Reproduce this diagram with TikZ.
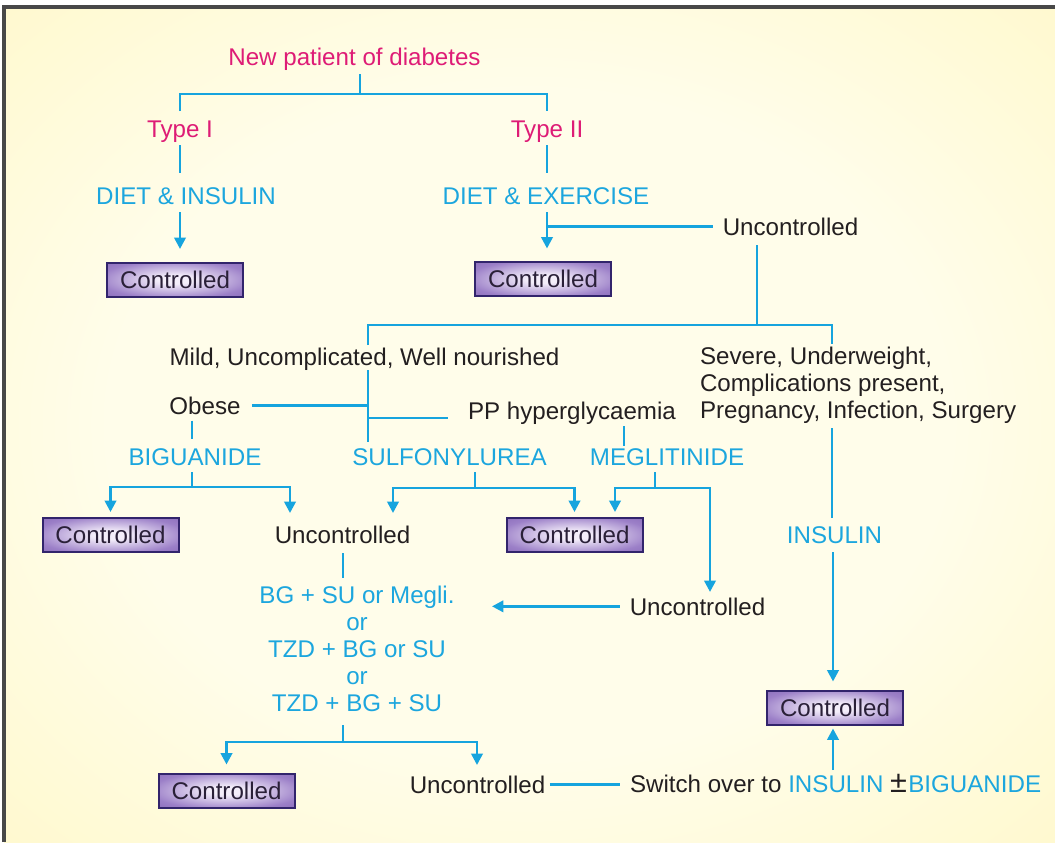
\documentclass[tikz,border=0pt]{standalone}
\usepackage{fontspec}
\setmainfont{Liberation Sans}
\usetikzlibrary{arrows.meta}

\definecolor{pinktxt}{RGB}{222,28,118}
\definecolor{cyantxt}{RGB}{28,166,222}
\definecolor{cyanln}{RGB}{22,164,222}
\definecolor{darktxt}{RGB}{35,31,32}
\definecolor{boxedge}{RGB}{50,36,108}
\definecolor{boxdark}{RGB}{118,86,170}
\definecolor{boxmid}{RGB}{156,128,200}
\definecolor{boxlight}{RGB}{244,238,250}
\definecolor{boxtxt}{RGB}{42,32,56}
\definecolor{bginner}{RGB}{255,253,234}
\definecolor{bgedge}{RGB}{255,245,182}
\definecolor{bgcorner}{RGB}{253,238,152}
\definecolor{framegray}{RGB}{72,72,72}

% soft yellow glow behind the chart
\pgfdeclareradialshading{bgglow}{\pgfpointorigin}{color(0bp)=(bginner); color(20bp)=(bginner); color(50bp)=(bgedge); color(72bp)=(bgcorner)}
% lavender glow inside the result boxes
\pgfdeclareradialshading{boxglow}{\pgfpointorigin}{color(0bp)=(boxlight); color(6bp)=(boxlight); color(28bp)=(boxmid); color(50bp)=(boxdark); color(72bp)=(boxdark)}

\tikzset{
  txt/.style={inner sep=0pt, outer sep=0pt, font=\fontsize{18.1}{20.25}\selectfont},
  one/.style={txt, text height=13pt, text depth=0pt},
  pinklabel/.style={one, text=pinktxt},
  druglabel/.style={one, text=cyantxt},
  plainlabel/.style={one, text=darktxt},
  cbox/.style={draw=boxedge, line width=1.5pt, shading=boxglow,
    minimum width=102pt, minimum height=25.5pt, inner sep=0pt, text=boxtxt,
    font=\fontsize{18.1}{20.25}\selectfont},
  ln/.style={draw=cyanln, line width=1.95pt},
  ar/.style={ln, -{Triangle[width=8.5pt,length=8.5pt]}},
}

\begin{document}
\begin{tikzpicture}[x=0.75pt,y=-0.75pt]
\useasboundingbox (0,0) rectangle (1055,842);
\fill[white] (0,0) rectangle (1055,842);
\shade[shading=bgglow] (4,7) rectangle (1055,842);
\draw[framegray, line width=2.4pt] (4,842) -- (4,7) -- (1055,7);

% ---- labels ----
\node[pinklabel, anchor=base] (title) at (354.5,65) {New patient of diabetes};
\node[pinklabel, anchor=base] (t1) at (180,137) {Type I};
\node[pinklabel, anchor=base] (t2) at (547,137) {Type II};
\node[druglabel, anchor=base] (di) at (186,204) {DIET \& INSULIN};
\node[druglabel, anchor=base] (de) at (546,204) {DIET \& EXERCISE};
\node[cbox] (c1) at (175,279.5) {Controlled};
\node[cbox] (c2) at (543,279) {Controlled};
\node[plainlabel, anchor=base] (u1) at (790.5,235) {Uncontrolled};
\node[plainlabel, anchor=base] (mild) at (364.5,365) {Mild, Uncomplicated, Well nourished};
\node[txt, text=darktxt, anchor=north west, align=left] (sev) at (700,347.5)
  {Severe, Underweight,\\Complications present,\\Pregnancy, Infection, Surgery};
\node[plainlabel, anchor=base] (ob) at (205,414) {Obese};
\node[plainlabel, anchor=base west] (pp) at (468,419) {PP hyperglycaemia};
\node[druglabel, anchor=base] (bg) at (195,465) {BIGUANIDE};
\node[druglabel, anchor=base] (su) at (449.5,465) {SULFONYLUREA};
\node[druglabel, anchor=base] (mg) at (667,465) {MEGLITINIDE};
\node[cbox] (c3) at (110.5,535) {Controlled};
\node[plainlabel, anchor=base] (u2) at (342.5,543) {Uncontrolled};
\node[cbox] (c4) at (574.5,535) {Controlled};
\node[druglabel, anchor=base] (ins) at (834.5,543) {INSULIN};
\node[plainlabel, anchor=base] (u3) at (697.5,615) {Uncontrolled};
\node[txt, text=cyantxt, anchor=north, align=center] (combo) at (357,586.5)
  {BG + SU or Megli.\\or\\TZD + BG or SU\\or\\TZD + BG + SU};
\node[cbox] (c5) at (226.5,790.5) {Controlled};
\node[plainlabel, anchor=base] (u4) at (477.5,793) {Uncontrolled};
\node[plainlabel, anchor=base west] (sw) at (630,792)
  {Switch over to \textcolor{cyantxt}{INSULIN} {\fontsize{23}{23}\selectfont ±}\kern1pt\textcolor{cyantxt}{BIGUANIDE}};
\node[cbox] (c6) at (835,707.5) {Controlled};

% ---- helper x positions and junctions ----
\coordinate (s0) at (360,94);
\coordinate (s1) at (757,325);
\coordinate (xa) at (368,0);
\coordinate (xb) at (832,0);
\coordinate (pj) at (368,418);
\coordinate (xo) at (192,0);
\coordinate (xm) at (624,0);
\coordinate (s2) at (192,487);
\coordinate (xu) at (290,0);
\coordinate (s3) at (475,488);
\coordinate (xv) at (393,0);
\coordinate (s4) at (655,488);
\coordinate (xw) at (615,0);
\coordinate (xz) at (710,0);
\coordinate (a5) at (492,0);
\coordinate (xc) at (343,0);
\coordinate (s5) at (343,742);
\coordinate (xd) at (477,0);
\coordinate (xe) at (833,0);

% ---- top split ----
\draw[ln, shorten <=7pt] (title.south -| s0) -- (s0);
\draw[ln, shorten <=6.5pt, shorten >=6.5pt] (t1.north) |- (s0) -| (t2.north);

% ---- type I ----
\draw[ln, shorten <=6pt, shorten >=10.3pt] (t1.south) -- (t1.south |- di.north);
\draw[ar, shorten <=6pt, shorten >=9.4pt] (t1.south |- di.south) -- (t1.south |- c1.north);

% ---- type II ----
\draw[ln, shorten <=6pt, shorten >=10.3pt] (t2.south) -- (t2.south |- de.north);
\draw[ar, shorten <=6pt, shorten >=9.4pt] (t2.south |- de.south) -- (t2.south |- c2.north);
\draw[ln, shorten <=7.5pt] (u1.west) -- (u1.west -| t2.south);

% ---- uncontrolled on diet ----
\draw[ln, shorten <=7.5pt] (u1.south -| s1) -- (s1);
\draw[ln, shorten <=2pt, shorten >=2.5pt] (mild.north -| xa) |- (s1) -| (sev.north -| xb);
\draw[ln, shorten <=3.75pt, shorten >=4.3pt] (mild.south -| xa) -- (su.north -| xa);
\draw[ln, shorten <=8.5pt] (ob.east) -- (ob.east -| xa);
\draw[ln, shorten >=15pt] (pj) -- (pj -| pp.west);
\draw[ln, shorten <=5pt, shorten >=6.5pt] (ob.south -| xo) -- (bg.north -| xo);
\draw[ln, shorten <=5.25pt, shorten >=1.3pt] (pp.south -| xm) -- (mg.north -| xm);

% ---- biguanide ----
\draw[ln, shorten <=5.25pt] (bg.south -| s2) -- (s2);
\draw[ar, shorten >=3.75pt] (s2) -| (c3.north);
\draw[ar, shorten >=9.5pt] (s2) -| (u2.north -| xu);

% ---- sulfonylurea ----
\draw[ln, shorten <=5.25pt] (su.south -| s3) -- (s3);
\draw[ar, shorten >=9.5pt] (s3) -| (u2.north -| xv);
\draw[ar, shorten >=3.75pt] (s3) -| (c4.north);

% ---- meglitinide ----
\draw[ln, shorten <=5.25pt] (mg.south -| s4) -- (s4);
\draw[ar, shorten >=3.75pt] (s4) -| (c4.north -| xw);
\draw[ar, shorten >=4.3pt] (s4) -| (u3.north -| xz);
\draw[ar, shorten <=7.5pt] (u3.west) -- (u3.west -| a5);

% ---- combination therapy ----
\draw[ln, shorten <=7.5pt, shorten >=6.4pt] (u2.south -| xc) -- (combo.north -| xc);
\draw[ln, shorten <=9.75pt] (combo.south -| s5) -- (s5);
\draw[ar, shorten >=6pt] (s5) -| (c5.north);
\draw[ar, shorten >=8pt] (s5) -| (u4.north -| xd);
\draw[ln, shorten <=3.5pt, shorten >=7.5pt] (u4.east) -- (u4.east -| sw.west);

% ---- insulin ----
\draw[ln, shorten <=3pt, shorten >=5.8pt] (sev.south -| xb) -- (ins.north -| xb);
\draw[ar, shorten <=6.75pt, shorten >=6pt] (ins.south -| xe) -- (c6.north -| xe);
\draw[ar, shorten <=3.5pt, shorten >=2.25pt] (sw.north -| xe) -- (c6.south -| xe);
\end{tikzpicture}
\end{document}
